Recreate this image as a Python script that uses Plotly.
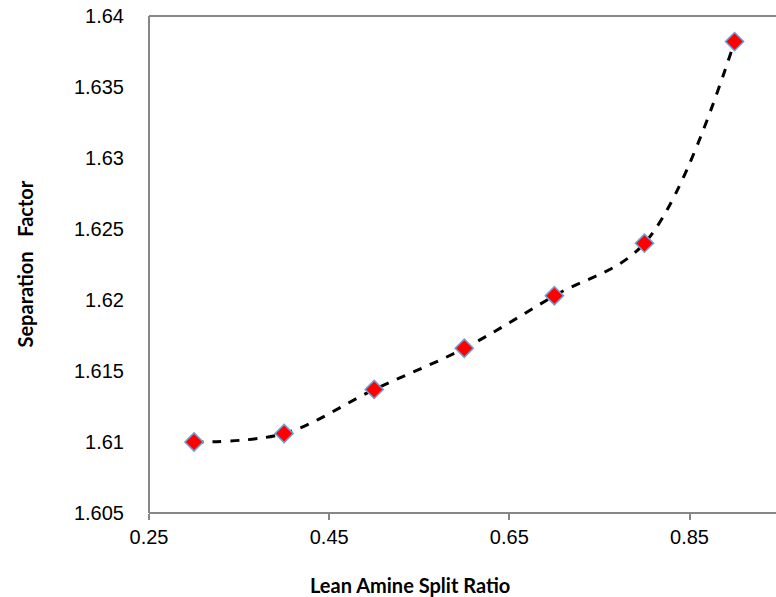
import plotly.graph_objects as go

split_ratio = [0.3, 0.4, 0.5, 0.6, 0.7, 0.8, 0.9]
separation_factor = [1.6100, 1.6106, 1.6137, 1.6166, 1.6203, 1.6240, 1.6382]

x_ticks = [0.25, 0.45, 0.65, 0.85]
x_labels = ["0.25", "0.45", "0.65", "0.85"]
y_ticks = [1.605, 1.61, 1.615, 1.62, 1.625, 1.63, 1.635, 1.64]
y_labels = ["1.605", "1.61", "1.615", "1.62", "1.625", "1.63", "1.635", "1.64"]

fig = go.Figure()
fig.add_trace(go.Scatter(
    x=split_ratio, y=separation_factor, mode="lines+markers",
    line=dict(color="black", width=3, dash="dash", shape="spline", smoothing=1.0),
    marker=dict(symbol="diamond", size=14, color="#ff0000",
                line=dict(color="#6f9fd8", width=1.5)),
    showlegend=False,
))

axis_gray = "#878787"
title_font = dict(family="Lato, Carlito, sans-serif", size=20, color="black")
border = dict(color=axis_gray, width=2)
fig.update_layout(
    width=776, height=597,
    margin=dict(l=149, r=0, t=16, b=84),
    paper_bgcolor="white", plot_bgcolor="white",
    font=dict(family="Liberation Sans, Arial", size=20, color="black"),
    xaxis=dict(
        range=[0.25, 0.946], tickvals=x_ticks, ticktext=x_labels,
        showgrid=False, zeroline=False, showline=False,
        ticks="outside", ticklen=6, tickcolor=axis_gray, tickwidth=2,
    ),
    yaxis=dict(
        range=[1.605, 1.64], tickvals=y_ticks, ticktext=y_labels,
        showgrid=False, zeroline=False, showline=False,
        ticks="outside", ticklen=20, tickcolor="rgba(0,0,0,0)",
    ),
    shapes=[
        dict(type="line", xref="paper", yref="paper", x0=0, x1=1, y0=1, y1=1, line=border, layer="above"),
        dict(type="line", xref="paper", yref="paper", x0=0, x1=1, y0=0, y1=0, line=border, layer="above"),
        dict(type="line", xref="paper", yref="paper", x0=0, x1=0, y0=0, y1=1, line=border, layer="above"),
    ],
    annotations=[
        dict(text="<b>Lean Amine Split Ratio</b>", xref="paper", yref="paper",
             x=(410 - 149) / 627, y=-(585 - 513) / 497, xanchor="center", yanchor="middle",
             showarrow=False, font=title_font),
        dict(text="<b>Separation\u00a0\u00a0 Factor</b>", xref="paper", yref="paper",
             x=-(149 - 24) / 627, y=0.5, xanchor="center", yanchor="middle",
             textangle=-90, showarrow=False, font=title_font),
    ],
)

fig.write_html("out.html", config={"displayModeBar": False, "staticPlot": True})
